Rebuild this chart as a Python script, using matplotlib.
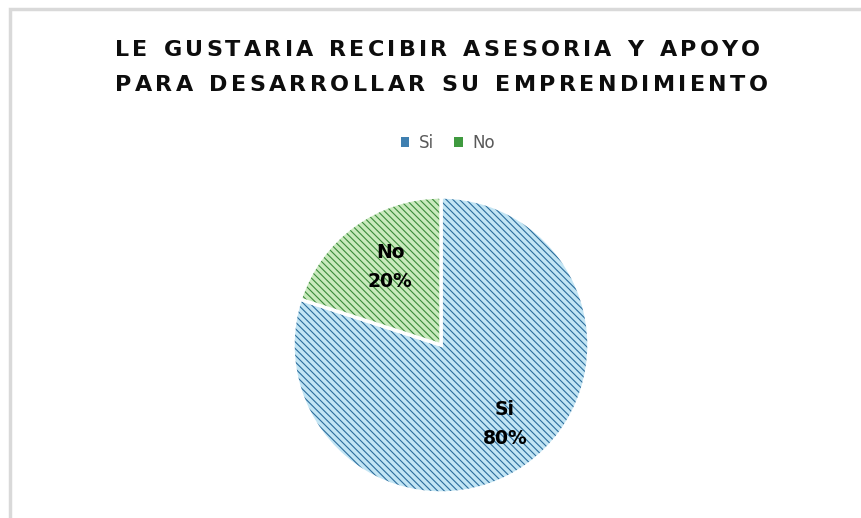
"""
Pie chart: interest in advisory support for entrepreneurship.
"""

import matplotlib
matplotlib.use('Agg')
import matplotlib.pyplot as plt
from matplotlib.patches import Patch, Rectangle

# Data
labels = ['Si', 'No']
values = [80, 20]
face_colors = ['#c2e5f4', '#c9eabd']
hatch_colors = ['#2b6c9c', '#3a8a3a']
title_lines = ['LE GUSTARIA RECIBIR ASESORIA Y APOYO',
               'PARA DESARROLLAR SU EMPRENDIMIENTO']

HATCH = '\\' * 5

W, H = 861, 518
fig = plt.figure(figsize=(W / 100, H / 100), dpi=100)
fig.patch.set_facecolor('white')

# Light gray frame (top and left edges visible)
fig.add_artist(Rectangle((10 / W, -0.1), 1.2, (H - 9) / H + 0.1,
                         transform=fig.transFigure, fill=False,
                         edgecolor='#d9d9d9', linewidth=2.5))

# Pie axes, placed in pixels
cx, cy, r = 441, 345, 148
ax = fig.add_axes([(cx - r) / W, (H - cy - r) / H, 2 * r / W, 2 * r / H])
plt.rcParams['hatch.linewidth'] = 0.8

wedges, _ = ax.pie(values, startangle=90, counterclock=False, radius=1,
                   colors=face_colors,
                   wedgeprops=dict(edgecolor='white', linewidth=2.5))
for w, hc in zip(wedges, hatch_colors):
    w.set_hatch(HATCH)
    w._hatch_color = matplotlib.colors.to_rgba(hc)

ax.set_xlim(-1, 1)
ax.set_ylim(-1, 1)
ax.set_aspect('equal')
ax.axis('off')

# Data labels
label_pos = [(505, 424), (390, 267)]
for lab, val, (px, py) in zip(labels, values, label_pos):
    fig.text(px / W, 1 - py / H, f'{lab}\n{val}%', ha='center', va='center',
             fontsize=13.5, fontweight='bold', color='black',
             linespacing=1.7, family='DejaVu Sans')

# Legend
handles = [Patch(facecolor=hc, edgecolor=hc, linewidth=0)
           for hc in ['#3f7fb0', '#3f9a3f']]
fig.legend(handles, labels, loc='center', bbox_to_anchor=(448 / W, 1 - 143 / H),
           ncol=2, frameon=False, fontsize=12, handlelength=0.5,
           handleheight=0.5, handletextpad=0.6, columnspacing=1.2,
           labelcolor='#595959')

# Title with letter spacing, drawn one character at a time
renderer = fig.canvas.get_renderer()
title_spans = [(115, 760, 50), (115, 768, 85)]
tsize = 16
for line, (x0, x1, y) in zip(title_lines, title_spans):
    widths = []
    for ch in line:
        t = fig.text(0, 0, ch if ch != ' ' else 'n', fontsize=tsize,
                     fontweight='bold', family='DejaVu Sans')
        bb = t.get_window_extent(renderer)
        widths.append(bb.width if ch != ' ' else bb.width * 0.6)
        t.remove()
    extra = ((x1 - x0) - sum(widths)) / (len(line) - 1)
    x = x0
    for ch, wd in zip(line, widths):
        if ch != ' ':
            fig.text(x / W, 1 - y / H, ch, fontsize=tsize, fontweight='bold',
                     family='DejaVu Sans', color='#0d0d0d',
                     ha='left', va='center')
        x += wd + extra

fig.savefig('out.png', dpi=100)
plt.close(fig)
